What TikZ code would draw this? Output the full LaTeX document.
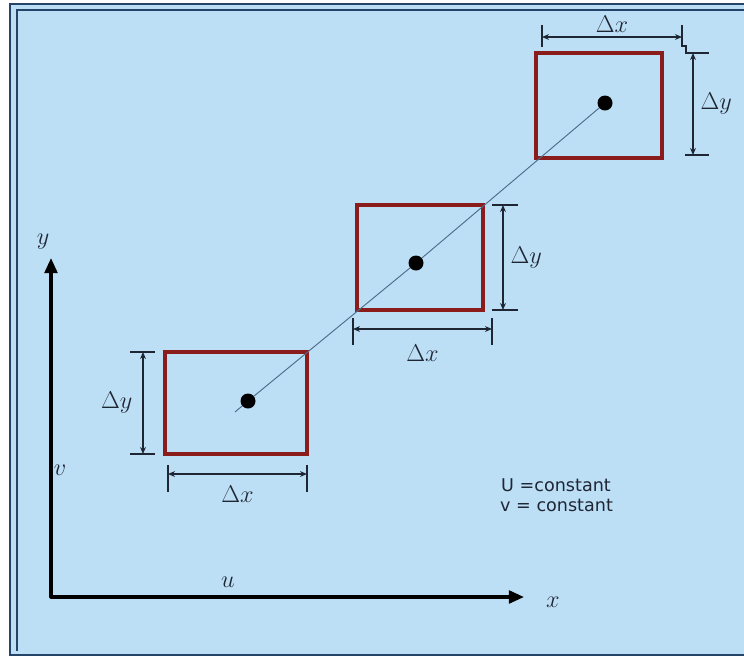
\documentclass[tikz,border=0pt]{standalone}
\usepackage{amsmath,amssymb}
\usepackage{fontspec}
\newfontfamily\notefont{DejaVu Sans}
\usepackage{xcolor}
\usetikzlibrary{arrows.meta, positioning, calc, fit}

\definecolor{paneblue}{RGB}{189,223,245}
\definecolor{rimblue}{RGB}{38,68,104}
\definecolor{cellred}{RGB}{139,28,28}
\definecolor{pathblue}{RGB}{78,108,140}
\definecolor{dimink}{RGB}{30,38,52}

\begin{document}
\begin{tikzpicture}[
    x=0.03cm, y=-0.03cm,
    >=Stealth,
    cell/.style={draw=cellred, line width=2.8pt, inner sep=0pt, outer sep=0pt},
    centre/.style={circle, fill=black, inner sep=0pt, minimum size=0.45cm},
    trace/.style={draw=pathblue, line width=0.8pt},
    dim/.style={draw=dimink, line width=1pt},
    dimarrow/.style={dim, {Stealth[length=6pt, width=5pt]}-{Stealth[length=6pt, width=5pt]}},
    axis/.style={line width=2.6pt, line join=round,
        {Triangle[length=13pt, width=11pt]}-{Triangle[length=13pt, width=11pt]}},
    lbl/.style={font=\fontsize{22}{26}\selectfont, inner sep=2pt, text=dimink},
    axlbl/.style={font=\fontsize{20}{24}\selectfont, inner sep=0pt, text=dimink},
    note/.style={font=\notefont\fontsize{15}{18}\selectfont, text=dimink, inner sep=0pt, anchor=west}
]

\useasboundingbox (0,0) rectangle (744,658);
\fill[paneblue] (10,4) rectangle (744,655);
\draw[rimblue, line width=1.2pt] (744,4) -- (10,4) -- (10,655) -- (744,655);
\draw[rimblue, line width=1pt] (744,10) -- (17,10) -- (17,651);

\node[cell, fit={(165,352) (307,454)}] (cellA) {};
\node[cell, fit={(357,205) (483,310)}] (cellB) {};
\node[cell, fit={(536,53) (662,158)}] (cellC) {};

\node[centre] (dotA) at (248,401) {};
\node[centre] (dotB) at (416,263) {};
\node[centre] (dotC) at (605,103) {};

\coordinate (traceend) at (235,412);
\draw[trace] (traceend) -- (dotA) -- (dotB) -- (dotC);

\draw[dim] ($(cellA.north west)+(-35,0)$) -- ++(25,0);
\draw[dim] ($(cellA.south west)+(-35,0)$) -- ++(25,0);
\draw[dimarrow] ($(cellA.north west)+(-22,0)$) -- node[lbl, left=6.5pt] {$\Delta y$} ($(cellA.south west)+(-22,0)$);
\draw[dim] ($(cellA.south west)+(3,11)$) -- ++(0,27);
\draw[dim] ($(cellA.south east)+(0,11)$) -- ++(0,27);
\draw[dimarrow] ($(cellA.south west)+(3,20)$) -- node[lbl, below=8pt] {$\Delta x$} ($(cellA.south east)+(0,20)$);

\draw[dim] ($(cellB.north east)+(9,0)$) -- ++(26,0);
\draw[dim] ($(cellB.south east)+(9,0)$) -- ++(26,0);
\draw[dimarrow] ($(cellB.north east)+(20,0)$) -- node[lbl, right=4pt] {$\Delta y$} ($(cellB.south east)+(20,0)$);
\draw[dim] ($(cellB.south west)+(-4,8)$) -- ++(0,27);
\draw[dim] ($(cellB.south east)+(9,8)$) -- ++(0,27);
\draw[dimarrow] ($(cellB.south west)+(-4,19)$) -- node[lbl, below=11pt] {$\Delta x$} ($(cellB.south east)+(9,19)$);

\draw[dim] ($(cellC.north west)+(6,-28)$) -- ++(0,22);
\draw[dim] ($(cellC.north east)+(20,-28)$) -- ++(0,21) -- ++(4,0) -- ++(0,7) -- ++(23,0);
\draw[dimarrow] ($(cellC.north west)+(6,-16)$) -- node[lbl, above=1.5pt] {$\Delta x$} ($(cellC.north east)+(20,-16)$);
\draw[dim] ($(cellC.south east)+(23,-3)$) -- ++(24,0);
\draw[dimarrow] ($(cellC.north east)+(31,0)$) -- node[lbl, right=4pt] {$\Delta y$} ($(cellC.south east)+(31,-3)$);

\coordinate (origin) at (51,597);
\coordinate (ytip) at (51,258);
\coordinate (xtip) at (524,597);
\draw[axis] (ytip) -- (origin) -- (xtip);

\node[axlbl] (ylab) at (43,242) {$y$};
\node[axlbl] (xlab) at (553,602) {$x$};
\node[axlbl] (ulab) at (228,582) {$u$};
\node[axlbl] (vlab) at (60,470) {$v$};

\node[note] (ucst) at (501,485) {U =constant};
\node[note] (vcst) at (500,505) {v = constant};

\end{tikzpicture}
\end{document}
